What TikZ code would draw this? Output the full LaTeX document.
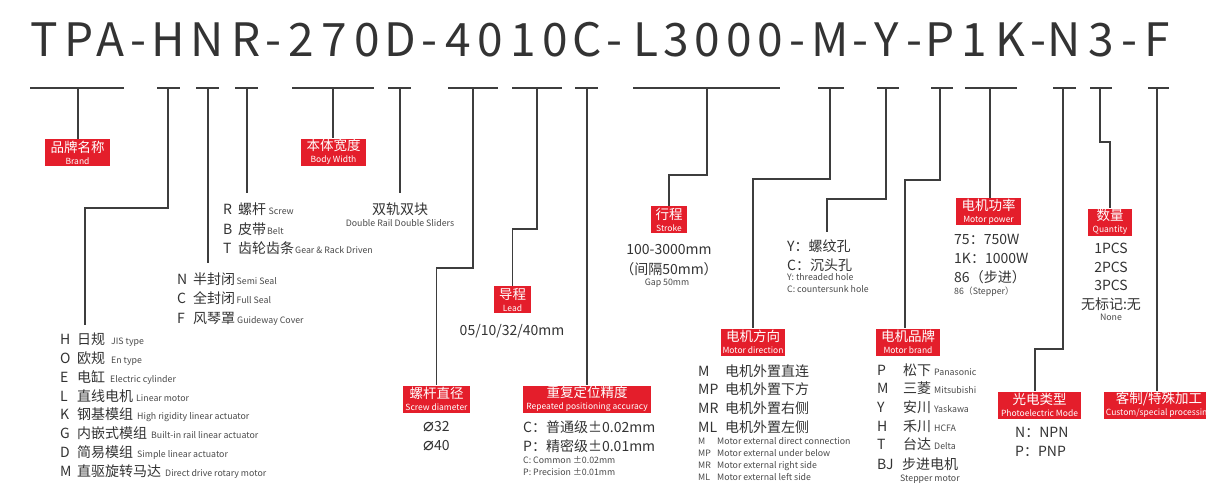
\documentclass[tikz,border=0pt]{standalone}
\usepackage{fontspec}
\setmainfont{Noto Sans CJK SC}
\newfontfamily\dejavu{DejaVu Sans}
\definecolor{lnc}{HTML}{3D3D3D}
\definecolor{redc}{HTML}{E41E2B}
\definecolor{txc}{HTML}{333333}
\definecolor{smc}{HTML}{4A4A4A}
\newcommand\fsz[1]{\fontsize{#1}{#1}\selectfont}
\newcommand\rbt[2]{\fontsize{13.5}{13.5}\selectfont #1\\\fontsize{8.5}{9.8}\selectfont #2}
\newcommand\smt[2]{{\fontsize{#1}{#1}\selectfont\color{smc}#2}}
\tikzset{
  ldr/.style={draw=lnc, line width=1.4pt},
  rbox/.style={fill=redc, text=white, inner sep=0pt, minimum height=27pt, align=center},
  ttl/.style={anchor=base, inner sep=0pt, text=txc, font=\fsz{46}},
  lrow/.style={anchor=base west, inner sep=0pt, text=txc, font=\fsz{14}},
  crow/.style={anchor=base, inner sep=0pt, text=txc, font=\fsz{14}},
  srow/.style={text=smc, font=\fsz{8.8}},
}
\begin{document}
\begin{tikzpicture}[x=1pt,y=-1pt]
\useasboundingbox (0,0) rectangle (1206,492);
\fill[white] (0,0) rectangle (1206,492);
\clip (0,0) rectangle (1206,492);

% title
\foreach \c/\x [count=\k] in {T/44,P/79,A/110,-/138,H/168,N/207,R/246,-/273,2/301,7/334,0/367,D/400,-/429,4/458,0/490,1/523,0/555,C/587,-/614,L/646,3/676,0/707,0/739,0/770,-/797,M/830,-/860,Y/887,-/914,P/940,1/974,K/1010,-/1038,N/1064,3/1101,-/1129,F/1157}
  \node[ttl] (t\k) at (\x,57) {\c};

% underline segments
\foreach \i/\a/\b/\t in {1/30/124/78, 2/157/180/168, 3/196/219/208, 4/235/258/247, 5/292/374/333, 6/388/411/400, 7/448/498/473, 8/512/562/537, 9/575/598/587, 10/633/780/707, 11/818/844/830, 12/877/899/886, 13/931/953/940, 14/965/1017/990, 15/1053/1076/1063, 16/1090/1112/1100, 17/1148/1169/1157}
{
  \coordinate (sa\i) at (\a,88);
  \coordinate (sb\i) at (\b,88);
  \coordinate (st\i) at (\t,88);
  \draw[ldr] (sa\i) -- (sb\i);
}

% red boxes
\node[rbox, minimum width=65pt] (brand) at (77.5,152.5) {\rbt{品牌名称}{Brand}};
\node[rbox, minimum width=65pt] (bwidth) at (333.5,152) {\rbt{本体宽度}{Body Width}};
\node[rbox, minimum width=67pt] (sdia) at (436.5,399) {\rbt{螺杆直径}{Screw diameter}};
\node[rbox, minimum width=37pt] (leadb) at (512.5,299.5) {\rbt{导程}{Lead}};
\node[rbox, minimum width=128pt] (rpa) at (587,399) {\rbt{重复定位精度}{Repeated positioning accuracy}};
\node[rbox, minimum width=36pt] (stroke) at (669,219.5) {\rbt{行程}{Stroke}};
\node[rbox, minimum width=64pt] (mdir) at (753,342) {\rbt{电机方向}{Motor direction}};
\node[rbox, minimum width=64pt] (mbrand) at (908,342) {\rbt{电机品牌}{Motor brand}};
\node[rbox, minimum width=65pt] (mpow) at (988.5,211.5) {\rbt{电机功率}{Motor power}};
\node[rbox, minimum width=44pt] (qty) at (1110,222) {\rbt{数量}{Quantity}};
\node[rbox, minimum width=83pt] (photo) at (1039.5,405) {\rbt{光电类型}{Photoelectric Mode}};
\node[rbox, minimum width=110pt] (cust) at (1159,405) {\rbt{客制/特殊加工}{Custom/special processing}};

% free ends
\coordinate (e2) at (85,325);
\coordinate (e3) at (208,263);
\coordinate (e4) at (247,193);
\coordinate (e6) at (400,193);
\coordinate (e12) at (827,232);

% leads
\draw[ldr] (st1) -- (st1 |- brand.north);
\draw[ldr] (st2) -- ++(0,120) -| (e2);
\draw[ldr] (st3) -- (e3);
\draw[ldr] (st4) -- (e4);
\draw[ldr] (st5) -- (st5 |- bwidth.north);
\draw[ldr] (st6) -- (e6);
\draw[ldr] (st7) -- ++(0,180) -| (sdia.north);
\draw[ldr] (st8) -- ++(0,141) -| (leadb.north);
\draw[ldr] (st9) -- (st9 |- rpa.north);
\draw[ldr] (st10) -- ++(0,87) -| (stroke.north);
\draw[ldr] (st11) -- ++(0,91) -| (mdir.north);
\draw[ldr] (st12) -- ++(0,111) -| (e12);
\draw[ldr] (st13) -- ++(0,92) -| ([xshift=-3pt]mbrand.north);
\draw[ldr] (st14) -- (st14 |- mpow.north);
\draw[ldr] (st15) -- ++(0,261) -| ([xshift=-4.5pt]photo.north);
\draw[ldr] (st16) -- ++(0,54) -| (qty.north);
\draw[ldr] (st17) -- (st17 |- cust.north);

% brand list
\node[lrow] (hl1) at (60,344) {\makebox[17pt][l]{H}日规\hspace{6pt}\smt{8.8}{JIS type}};
\node[lrow] (hl2) at (60,363) {\makebox[17pt][l]{O}欧规\hspace{6pt}\smt{8.8}{En type}};
\node[lrow] (hl3) at (60,382) {\makebox[17pt][l]{E}电缸\hspace{5pt}\smt{8.8}{Electric cylinder}};
\node[lrow] (hl4) at (60,401) {\makebox[17pt][l]{L}直线电机\hspace{3pt}\smt{8.8}{Linear motor}};
\node[lrow] (hl5) at (60,419.5) {\makebox[17pt][l]{K}钢基模组\hspace{4pt}\smt{8.8}{High rigidity linear actuator}};
\node[lrow] (hl6) at (60,438.5) {\makebox[17pt][l]{G}内嵌式模组\hspace{4pt}\smt{8.8}{Built-in rail linear actuator}};
\node[lrow] (hl7) at (60,457) {\makebox[17pt][l]{D}简易模组\hspace{4pt}\smt{8.8}{Simple linear actuator}};
\node[lrow] (hl8) at (60,476) {\makebox[17pt][l]{M}直驱旋转马达\hspace{4pt}\smt{8.8}{Direct drive rotary motor}};

% seal list
\node[lrow] (sl1) at (177,284) {\makebox[16pt][l]{N}半封闭\hspace{1.5pt}\smt{8.8}{Semi Seal}};
\node[lrow] (sl2) at (177,303) {\makebox[16pt][l]{C}全封闭\hspace{1.5pt}\smt{8.8}{Full Seal}};
\node[lrow] (sl3) at (177,323) {\makebox[16pt][l]{F}风琴罩\hspace{2pt}\smt{8.8}{Guideway Cover}};

% drive list
\node[lrow] (dl1) at (223,214) {\makebox[15pt][l]{R}螺杆\hspace{2.5pt}\smt{8.8}{Screw}};
\node[lrow] (dl2) at (223,234) {\makebox[15pt][l]{B}皮带\hspace{1pt}\smt{8.8}{Belt}};
\node[lrow] (dl3) at (223,253) {\makebox[15pt][l]{T}齿轮齿条\hspace{1pt}\smt{8.8}{Gear \& Rack Driven}};

% rails
\node[crow] (rail1) at (400,214) {双轨双块};
\node[crow, srow] (rail2) at (400,226) {Double Rail Double Sliders};

% screw diameter
\node[lrow] (dia1) at (423,431) {{\dejavu\fsz{18}⌀}32};
\node[lrow] (dia2) at (423,450) {{\dejavu\fsz{18}⌀}40};

% lead
\node[crow] (leadv) at (512,335) {05/10/32/40mm};

% accuracy
\node[lrow] (rp1) at (523,432) {C：普通级±0.02mm};
\node[lrow] (rp2) at (523,451) {P：精密级±0.01mm};
\node[lrow, srow] (rp3) at (523,463) {C: Common ±0.02mm};
\node[lrow, srow] (rp4) at (523,475) {P: Precision ±0.01mm};

% stroke
\node[crow] (strk1) at (669,254) {100-3000mm};
\node[crow] (strk2) at (669,274) {（间隔50mm）};
\node[crow, srow] (strk3) at (667,285) {Gap 50mm};

% holes
\node[lrow] (hole1) at (787,251) {Y：螺纹孔};
\node[lrow] (hole2) at (787,270) {C：沉头孔};
\node[lrow, srow] (hole3) at (787,280.5) {Y: threaded hole};
\node[lrow, srow] (hole4) at (787,292.5) {C: countersunk hole};

% motor direction
\node[lrow] (md1) at (698,376) {\makebox[27pt][l]{M}电机外置直连};
\node[lrow] (md2) at (698,394.5) {\makebox[27pt][l]{MP}电机外置下方};
\node[lrow] (md3) at (698,413) {\makebox[27pt][l]{MR}电机外置右侧};
\node[lrow] (md4) at (698,432) {\makebox[27pt][l]{ML}电机外置左侧};
\node[lrow, srow] (md5) at (698,444) {\makebox[19pt][l]{M}Motor external direct connection};
\node[lrow, srow] (md6) at (698,456) {\makebox[19pt][l]{MP}Motor external under below};
\node[lrow, srow] (md7) at (698,468) {\makebox[19pt][l]{MR}Motor external right side};
\node[lrow, srow] (md8) at (698,480) {\makebox[19pt][l]{ML}Motor external left side};

% motor brand
\node[lrow] (mb1) at (877,375) {\makebox[26pt][l]{P}松下\hspace{3pt}\smt{8.8}{Panasonic}};
\node[lrow] (mb2) at (877,393.5) {\makebox[26pt][l]{M}三菱\hspace{3pt}\smt{8.8}{Mitsubishi}};
\node[lrow] (mb3) at (877,412) {\makebox[26pt][l]{Y}安川\hspace{3pt}\smt{8.8}{Yaskawa}};
\node[lrow] (mb4) at (877,431) {\makebox[26pt][l]{H}禾川\hspace{3pt}\smt{8.8}{HCFA}};
\node[lrow] (mb5) at (877,449.5) {\makebox[26pt][l]{T}台达\hspace{3pt}\smt{8.8}{Delta}};
\node[lrow] (mb6) at (877,469) {\makebox[25pt][l]{BJ}步进电机};
\node[lrow, srow] (mb7) at (900,481) {Stepper motor};

% motor power
\node[lrow] (mp1) at (954,244) {75：750W};
\node[lrow] (mp2) at (954,263) {1K：1000W};
\node[lrow] (mp3) at (954,282) {86（步进）};
\node[lrow, srow] (mp4) at (954,294) {86（Stepper）};

% quantity
\node[crow] (q1) at (1111,253) {1PCS};
\node[crow] (q2) at (1111,272) {2PCS};
\node[crow] (q3) at (1111,290.5) {3PCS};
\node[crow] (q4) at (1111,309) {无标记:无};
\node[crow, srow] (q5) at (1111,320) {None};

% photoelectric
\node[lrow] (ph1) at (1015,437) {N：NPN};
\node[lrow] (ph2) at (1015,456) {P：PNP};
\end{tikzpicture}
\end{document}
